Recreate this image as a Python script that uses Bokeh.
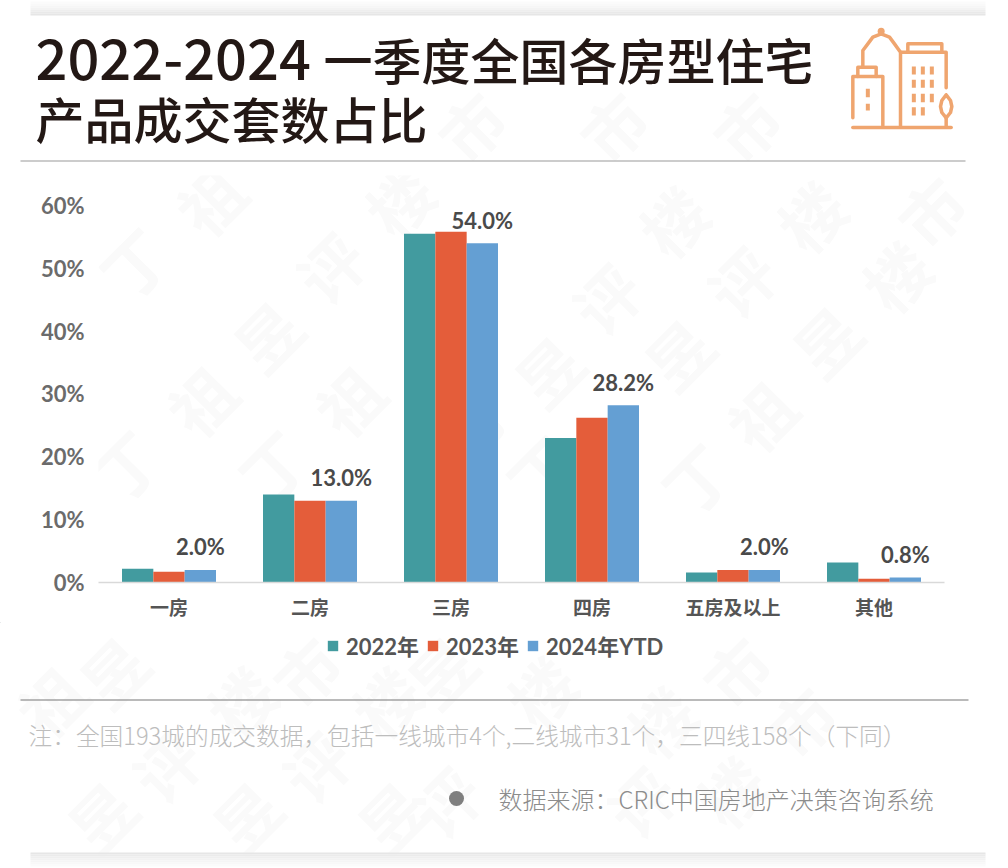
from bokeh.plotting import figure
from bokeh.layouts import column
from bokeh.models import ColumnDataSource, Range1d, FixedTicker, Legend, LegendItem
from bokeh.core.properties import value
from bokeh.embed import file_html
from bokeh.resources import INLINE

categories = ["一房", "二房", "三房", "四房", "五房及以上", "其他"]
y2022 = [2.2, 14.0, 55.5, 23.0, 1.6, 3.2]
y2023 = [1.7, 13.0, 55.8, 26.2, 2.0, 0.6]
y2024 = [2.0, 13.0, 54.0, 28.2, 2.0, 0.8]
series_names = ["2022年", "2023年", "2024年YTD"]
value_labels = ["2.0%", "13.0%", "54.0%", "28.2%", "2.0%", "0.8%"]
y_ticks = [0, 10, 20, 30, 40, 50, 60]

TEAL, ORANGE, BLUE = "#429B9F", "#E45D3A", "#649FD3"
COLORS = [TEAL, ORANGE, BLUE]
LATIN = "Lato, 'Noto Sans CJK SC'"
CJK = "'Noto Sans CJK SC'"
MEDIUM = "'Noto Sans CJK SC Medium', 'Noto Sans CJK SC'"
LIGHT = "'Noto Sans CJK SC Light', 'Noto Sans CJK SC'"
W, TOP_H, MID_B, MID_H = 1008, 175, 622, 447
BOT_H = 868 - MID_B
FL, FB, PXU, PYU = 98, 583, 141.0, 6.3

NOTE = "注\uff1a全国193城的成交数据\uff0c包括一线城市4个,二线城市31个\uff0c三四线158个\uff08下同\uff09"
SOURCE = "数据来源\uff1aCRIC中国房地产决策咨询系统"

marks = [("祖", 209, 199), ("丁", 133, 262), ("评", 329, 266), ("昱", 266, 335), ("楼", 398, 200),
         ("市", 470, 125), ("市", 612, 125), ("市", 745, 125), ("市", 930, 210), ("楼", 672, 220),
         ("楼", 810, 215), ("楼", 895, 275), ("评", 605, 297), ("评", 740, 280), ("昱", 825, 340),
         ("昱", 547, 370), ("昱", 677, 353), ("祖", 200, 400), ("祖", 348, 400), ("丁", 124, 465),
         ("丁", 272, 465), ("市", 470, 430), ("祖", 760, 415), ("丁", 695, 478), ("丁", 540, 470),
         ("昱", 112, 670), ("市", 305, 670), ("昱", 440, 670), ("市", 735, 670), ("祖", 50, 700),
         ("楼", 240, 700), ("楼", 385, 700), ("楼", 540, 690), ("楼", 660, 720), ("市", 800, 720),
         ("评", 165, 765), ("评", 315, 765), ("评", 445, 800), ("楼", 730, 790), ("昱", 100, 815),
         ("昱", 245, 815), ("昱", 390, 815), ("评", 640, 800)]

def watermark(fig, tx, ty, y0, y1):
    ms = [m for m in marks if y0 <= m[2] < y1]
    src = ColumnDataSource(dict(x=[tx(m[1]) for m in ms], y=[ty(m[2]) for m in ms], t=[m[0] for m in ms]))
    fig.text(x="x", y="y", text="t", source=src, text_align="center", text_baseline="middle",
             text_font=value(CJK), text_font_style="bold", text_font_size="64px",
             text_color="#fafafa", angle=0.785)

def panel(h, y0):
    f = figure(width=W, height=h, output_backend="svg", toolbar_location=None,
               x_range=Range1d(0, W), y_range=Range1d(y0 + h, y0), frame_align=False,
               min_border=0, x_axis_location=None, y_axis_location=None,
               outline_line_color=None, background_fill_color=None, border_fill_color=None)
    f.grid.visible = False
    watermark(f, lambda v: v, lambda v: v, y0, y0 + h)
    return f

def txt(f, x, y, text, size, color, font=CJK, style="normal"):
    f.text(x=[x], y=[y], text=[text], text_font=value(font), text_font_style=style,
           text_font_size=f"{size}px", text_color=color, text_align="left", text_baseline="middle")

def rect(f, x0, x1, y0, y1, color):
    f.quad(left=[x0], right=[x1], top=[y0], bottom=[y1], fill_color=color, line_color=None)

# ---------- top panel: title, icon, rule
top = panel(TOP_H, 0)
for i, c in enumerate(["#fbfbfb", "#f9f9f9", "#f6f6f6", "#f3f3f3", "#eeeeee", "#e9e9e9", "#e6e6e6"]):
    rect(top, 30, 985, 1 + i * 2, 3 + i * 2, c)
TITLE = "#231815"
txt(top, 35, 59, "2022-2024", 56, TITLE, font=MEDIUM)
txt(top, 323, 58, "一季度全国各房型住宅", 49, TITLE, font=MEDIUM)
txt(top, 35, 117, "产品成交套数占比", 49, TITLE, font=MEDIUM)
rect(top, 20, 965, 160, 161, "#999999")

ICON, IW = "#EFA56F", 3.5
ix = lambda z: 504 + z / 3
iy = lambda z: z / 3
paths = [
    [(1045, 381), (1340, 381)],
    [(1045, 352), (1045, 228), (1135, 228), (1135, 375)],
    [(1060, 228), (1060, 200), (1115, 200), (1115, 228)],
    [(1075, 200), (1075, 150), (1090, 130), (1105, 110), (1130, 100), (1155, 110), (1170, 130), (1188, 155), (1188, 378)],
    [(1190, 155), (1325, 155), (1325, 262)],
    [(1210, 155), (1210, 130), (1312, 130), (1312, 155)],
    [(1325, 350), (1325, 378)],
    [(1325, 283), (1338, 300), (1342, 318), (1338, 336), (1325, 352), (1312, 336), (1308, 318), (1312, 300), (1325, 283)],
]
for path in paths:
    top.line([ix(a) for a, b in path], [iy(b) for a, b in path], line_color=ICON, line_width=IW,
             line_cap="round", line_join="round")
top.scatter([ix(1130)], [iy(92)], size=7, fill_color=ICON, line_color=None)
for wx in (1228, 1255, 1282):
    for y0, y1 in [(198, 222), (238, 262), (280, 305), (320, 345)]:
        if wx == 1282 and y0 == 320:
            continue
        top.line([ix(wx), ix(wx)], [iy(y0), iy(y1)], line_color=ICON, line_width=4)
for y0, y1 in [(265, 290), (310, 330)]:
    top.line([ix(1090), ix(1090)], [iy(y0), iy(y1)], line_color=ICON, line_width=4)

# ---------- middle panel: the chart
p = figure(width=W, height=MID_H, output_backend="svg", toolbar_location=None,
           x_range=Range1d(0, (W - FL) / PXU), y_range=Range1d(0, (FB - TOP_H) / PYU), frame_align=False,
           min_border_left=FL, min_border_right=0, min_border_top=0, min_border_bottom=MID_B - FB,
           outline_line_color=None, background_fill_color=None, border_fill_color=None)
p.grid.visible = False
watermark(p, lambda v: (v - FL) / PXU, lambda v: (FB - v) / PYU, TOP_H, MID_B)

n = len(categories)
w = 94 / 3 / PXU
xc = [i + 0.5 for i in range(n)]
for vals, off, col in zip([y2022, y2023, y2024], [-w, 0, w], COLORS):
    src = ColumnDataSource(dict(x=[c + off for c in xc], top=vals))
    p.vbar(x="x", top="top", bottom=0, width=w, source=src, fill_color=col, line_color=None)

src = ColumnDataSource(dict(x=[c + w for c in xc], y=y2024, t=value_labels))
p.text(x="x", y="y", text="t", source=src, text_align="center", text_baseline="middle", y_offset=-23,
       text_font=value(LATIN), text_font_style="bold", text_font_size="22px", text_color="#4a4a4a")

xa = p.xaxis[0]
xa.ticker = FixedTicker(ticks=xc)
xa.major_label_overrides = {c: name for c, name in zip(xc, categories)}
xa.bounds = (0, n)
xa.axis_line_color = "#d9d9d9"
xa.axis_line_width = 1.5
xa.major_tick_line_color = None
xa.minor_tick_line_color = None
xa.major_label_standoff = 4
xa.major_label_text_font = CJK
xa.major_label_text_font_style = "bold"
xa.major_label_text_font_size = "19px"
xa.major_label_text_color = "#555555"

ya = p.yaxis[0]
ya.ticker = FixedTicker(ticks=y_ticks)
ya.major_label_overrides = {t: f"{t}%" for t in y_ticks}
ya.axis_line_color = None
ya.major_tick_line_color = None
ya.minor_tick_line_color = None
ya.major_label_standoff = 8
ya.major_label_text_font = LATIN
ya.major_label_text_font_style = "bold"
ya.major_label_text_font_size = "22px"
ya.major_label_text_color = "#6b6b6b"

# ---------- bottom panel: legend, rule, notes
bot = panel(BOT_H, MID_B)
rs = [bot.vbar(x=[-100], top=[vals[0]], bottom=0, width=1, fill_color=c, line_color=None)
      for vals, c in zip([y2022, y2023, y2024], COLORS)]
legend = Legend(items=[LegendItem(label=s, renderers=[r]) for s, r in zip(series_names, rs)],
                orientation="horizontal", location=(326, 868 - 661),
                glyph_width=13, glyph_height=13, label_standoff=7, spacing=7, padding=0, margin=0,
                border_line_color=None, background_fill_alpha=0,
                label_text_font=LATIN, label_text_font_style="bold", label_text_font_size="22px",
                label_text_color="#555555", label_height=13)
bot.add_layout(legend, "center")
rect(bot, 20, 968, 699, 700, "#777777")
txt(bot, 28, 734, NOTE, 23.7, "#bdbdbd", font=LIGHT)
bot.scatter([456], [798], size=15, fill_color="#7f7f7f", line_color=None)
txt(bot, 498, 798, SOURCE, 24, "#8c8c8c", font=LIGHT)
for i, c in enumerate(["#e6e6e6", "#ebebeb", "#efefef", "#f2f2f2", "#f5f5f5", "#f8f8f8", "#fbfbfb"]):
    rect(bot, 30, 985, 852 + i * 2, 854 + i * 2, c)

page = column(top, p, bot, spacing=0)
open("out.html", "w").write(file_html(page, INLINE))
